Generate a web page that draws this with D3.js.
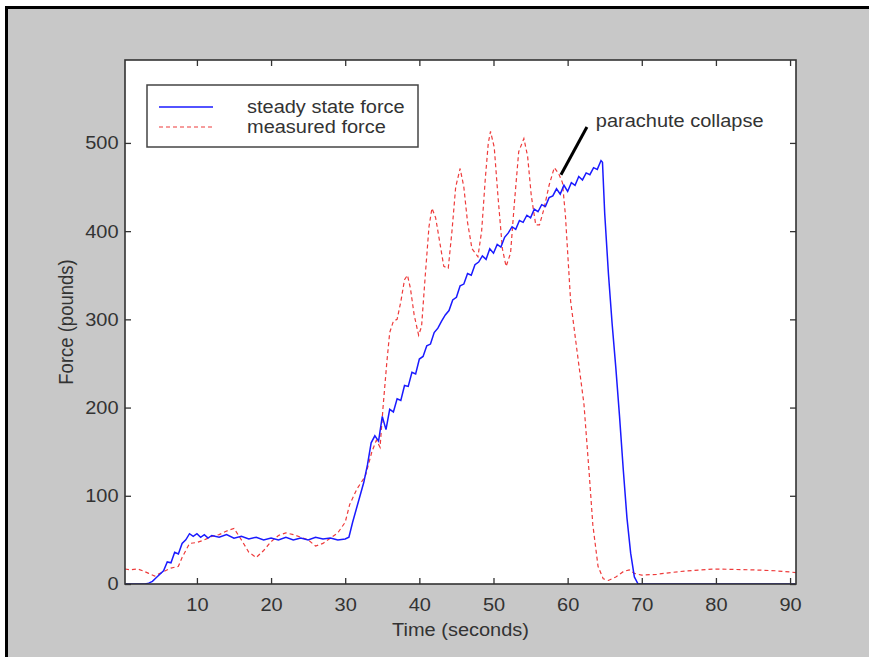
<!DOCTYPE html>
<html>
<head>
<meta charset="utf-8">
<script src="https://cdn.jsdelivr.net/npm/d3@7/dist/d3.min.js"></script>
<style>
    body { margin: 0; background: #fff; }
    svg text { font-family: "Liberation Sans", Arial, sans-serif; font-size: 18.5px; fill: #333; }
</style>
</head>
<body>
<div id="chart"></div>
<script>
// steady state force (blue, solid)
const steadyTime = [0.3, 1, 2, 3, 3.5, 4, 4.5, 5, 5.5, 6, 6.5, 7, 7.5, 8, 8.5, 9, 9.5, 10, 10.5, 11, 11.5, 12,
    13, 14, 15, 16, 17, 18, 19, 20, 21, 22, 23, 24, 25, 26, 27, 28, 29, 30, 30.5, 31, 31.5, 32, 32.5, 33, 33.5,
    34, 34.5, 35, 35.5, 36, 36.5, 37, 37.5, 38, 38.5, 39, 39.5, 40, 40.5, 41, 41.5, 42, 42.5, 43, 43.5, 44, 44.5,
    45, 45.5, 46, 46.5, 47, 47.5, 48, 48.5, 49, 49.5, 50, 50.5, 51, 51.5, 52, 52.5, 53, 53.5, 54, 54.5, 55, 55.5,
    56, 56.5, 57, 57.5, 58, 58.5, 59, 59.5, 60, 60.5, 61, 61.5, 62, 62.5, 63, 63.5, 64, 64.5, 64.7, 65, 65.5, 66,
    66.5, 67, 67.5, 68, 68.5, 69, 69.5, 70, 75, 80, 85, 90.8];
const steadyForce = [0, 0, 0, 0, 1, 3, 7, 11, 15, 25, 24, 36, 34, 46, 50, 57, 54, 57, 53, 56, 52, 55,
    53, 56, 52, 54, 51, 53, 50, 52, 50, 53, 50, 52, 50, 53, 51, 52, 50, 51, 53, 70, 85, 100, 115, 135, 160,
    168, 162, 190, 175, 198, 195, 210, 208, 225, 224, 240, 238, 255, 258, 270, 272, 285, 290, 298, 305, 310, 322,
    325, 338, 340, 352, 350, 362, 365, 372, 368, 380, 375, 385, 382, 393, 398, 405, 402, 412, 410, 418, 415, 425,
    422, 430, 428, 438, 440, 448, 442, 452, 445, 455, 452, 462, 458, 466, 464, 472, 470, 480, 478, 420, 352, 295,
    245, 190, 130, 75, 35, 8, 0, 0, 0, 0, 0, 0];

// measured force (red, dashed)
const measuredTime = [0.3, 1, 2, 2.7, 3.5, 4.3, 5.5, 6.5, 7.5, 8, 9, 10, 11, 12, 13, 14, 15, 16, 17, 18, 19, 20,
    21, 22, 23, 24, 25, 26, 27, 28, 29, 30, 30.6, 31.6, 32.7, 33.6, 34.2, 34.7, 35.1, 35.6, 36, 36.5, 37, 37.5,
    38, 38.4, 38.8, 39.3, 39.9, 40.3, 40.8, 41.3, 41.7, 42.2, 42.8, 43.3, 43.9, 44.4, 44.9, 45.5, 46, 46.5, 47.1,
    47.9, 48.4, 48.9, 49.3, 49.6, 50.1, 50.6, 51.2, 51.7, 52.3, 52.8, 53.4, 54.1, 54.6, 55.1, 55.7, 56.2, 56.8, 57.5,
    58.2, 58.8, 59.3, 59.7, 60.4, 61.3, 62.2, 62.9, 63.4, 64.1, 64.8, 65.5, 66.5, 67.5, 68.3, 69, 70, 72, 75, 78,
    80, 85, 88, 90.8];
const measuredForce = [17, 16, 17, 15, 12, 9, 14, 18, 20, 30, 46, 47, 50, 54, 56, 60, 63, 50, 36, 30, 38, 48,
    55, 58, 56, 53, 50, 43, 46, 52, 58, 70, 90, 108, 122, 150, 163, 155, 200, 250, 285, 298, 300, 320,
    345, 350, 335, 305, 282, 292, 350, 405, 426, 415, 385, 360, 358, 400, 450, 471, 450, 410, 380,
    371, 400, 460, 500, 513, 495, 440, 380, 360, 375, 430, 490, 505, 485, 440, 407, 407, 425, 452,
    472, 465, 455, 418, 321, 262, 204, 126, 67, 20, 6, 4, 8, 14, 16, 12, 10, 11, 14, 16,
    17, 16, 15, 13];

const xTicks = [10, 20, 30, 40, 50, 60, 70, 80, 90];
const yTicks = [0, 100, 200, 300, 400, 500];
const legendLabels = ['steady state force', 'measured force'];
const xLabel = 'Time (seconds)';
const yLabel = 'Force (pounds)';
const noteText = 'parachute collapse';
const noteFrom = [59.1, 464];
const noteTo = [62.6, 518];
const noteAt = [63.8, 518];

const w = 869;
const h = 657;
const plotLeft = 125, plotRight = 796, plotTop = 60, plotBottom = 584;
const sx = 1.08; // the picture is stretched a little sideways

const steady = steadyTime.map((t, i) => [t, steadyForce[i]]);
const measured = measuredTime.map((t, i) => [t, measuredForce[i]]);

const xScale = d3.scaleLinear().domain([0.3, 90.8]).range([plotLeft, plotRight]);
const yScale = d3.scaleLinear().domain([0, 594]).range([plotBottom, plotTop]);

const svg = d3.select('#chart')
    .append('svg')
    .attr('width', w)
    .attr('height', h);

// figure window
svg.append('rect')
    .attr('x', 6).attr('y', 7)
    .attr('width', w - 6).attr('height', h - 7)
    .attr('fill', '#c8c8c8');
svg.append('path')
    .attr('d', 'M6.5,' + h + 'V7.5H' + w)
    .attr('fill', 'none')
    .attr('stroke', '#000')
    .attr('stroke-width', 3);

svg.append('rect')
    .attr('x', plotLeft).attr('y', plotTop)
    .attr('width', plotRight - plotLeft).attr('height', plotBottom - plotTop)
    .attr('fill', '#fff');

svg.append('clipPath').attr('id', 'clip')
    .append('rect')
    .attr('x', plotLeft).attr('y', plotTop)
    .attr('width', plotRight - plotLeft).attr('height', plotBottom - plotTop);

const line = d3.line()
    .x(d => xScale(d[0]))
    .y(d => yScale(d[1]));

svg.append('path')
    .datum(measured)
    .attr('clip-path', 'url(#clip)')
    .attr('d', line)
    .attr('fill', 'none')
    .attr('stroke', '#ee3b3b')
    .attr('stroke-width', 1.2)
    .attr('stroke-dasharray', '4,3');

svg.append('path')
    .datum(steady)
    .attr('clip-path', 'url(#clip)')
    .attr('d', line)
    .attr('fill', 'none')
    .attr('stroke', '#1a1aff')
    .attr('stroke-width', 1.5);

// axes, ticks pointing inward on all four sides
const xAxis = d3.axisBottom(xScale).tickValues(xTicks).tickSize(-6).tickPadding(14);
const yAxis = d3.axisLeft(yScale).tickValues(yTicks).tickSize(-6).tickPadding(6);

const gx = svg.append('g')
    .attr('id', 'x-axis')
    .attr('transform', 'translate(0,' + plotBottom + ')')
    .call(xAxis);
const gy = svg.append('g')
    .attr('id', 'y-axis')
    .attr('transform', 'translate(' + plotLeft + ',0)')
    .call(yAxis);
svg.append('g')
    .attr('transform', 'translate(0,' + plotTop + ')')
    .call(d3.axisTop(xScale).tickValues(xTicks).tickSize(-6).tickFormat(''));
svg.append('g')
    .attr('transform', 'translate(' + plotRight + ',0)')
    .call(d3.axisRight(yScale).tickValues(yTicks).tickSize(-6).tickFormat(''));

svg.selectAll('.domain').remove();
svg.selectAll('.tick line').attr('stroke', '#333').attr('stroke-width', 1.3);
svg.selectAll('g[font-family]').attr('font-family', null).attr('font-size', null);
gx.selectAll('text').attr('transform', 'scale(' + sx + ',1)');
gy.selectAll('text').attr('transform', 'scale(' + sx + ',1)');
svg.selectAll('.tick text').attr('fill', '#333');

svg.append('rect')
    .attr('x', plotLeft).attr('y', plotTop)
    .attr('width', plotRight - plotLeft).attr('height', plotBottom - plotTop)
    .attr('fill', 'none')
    .attr('stroke', '#333')
    .attr('stroke-width', 1.6);

// axis titles
svg.append('text')
    .attr('transform', 'translate(' + ((plotLeft + plotRight) / 2) + ',636) scale(' + sx + ',1)')
    .attr('text-anchor', 'middle')
    .text(xLabel);
svg.append('text')
    .attr('transform', 'translate(73,' + ((plotTop + plotBottom) / 2) + ') scale(' + sx + ',1) rotate(-90)')
    .attr('text-anchor', 'middle')
    .text(yLabel);

// legend
const legend = svg.append('g').attr('transform', 'translate(147,85)');
legend.append('rect')
    .attr('width', 271).attr('height', 62)
    .attr('fill', '#fff')
    .attr('stroke', '#444')
    .attr('stroke-width', 1.5);
const styles = [
    { stroke: '#1a1aff', dash: null, width: 1.5 },
    { stroke: '#ee3b3b', dash: '4,3', width: 1.2 }
];
legendLabels.forEach((label, i) => {
    const y = 22 + i * 20;
    legend.append('line')
        .attr('x1', 12).attr('x2', 66)
        .attr('y1', y).attr('y2', y)
        .attr('stroke', styles[i].stroke)
        .attr('stroke-width', styles[i].width)
        .attr('stroke-dasharray', styles[i].dash);
    legend.append('text')
        .attr('transform', 'translate(100,' + (y + 6) + ') scale(' + sx + ',1)')
        .text(label);
});

// annotation
svg.append('line')
    .attr('x1', xScale(noteFrom[0])).attr('y1', yScale(noteFrom[1]))
    .attr('x2', xScale(noteTo[0])).attr('y2', yScale(noteTo[1]))
    .attr('stroke', '#000')
    .attr('stroke-width', 3);
svg.append('text')
    .attr('transform', 'translate(' + xScale(noteAt[0]) + ',' + yScale(noteAt[1]) + ') scale(' + sx + ',1)')
    .text(noteText);
</script>
</body>
</html>
